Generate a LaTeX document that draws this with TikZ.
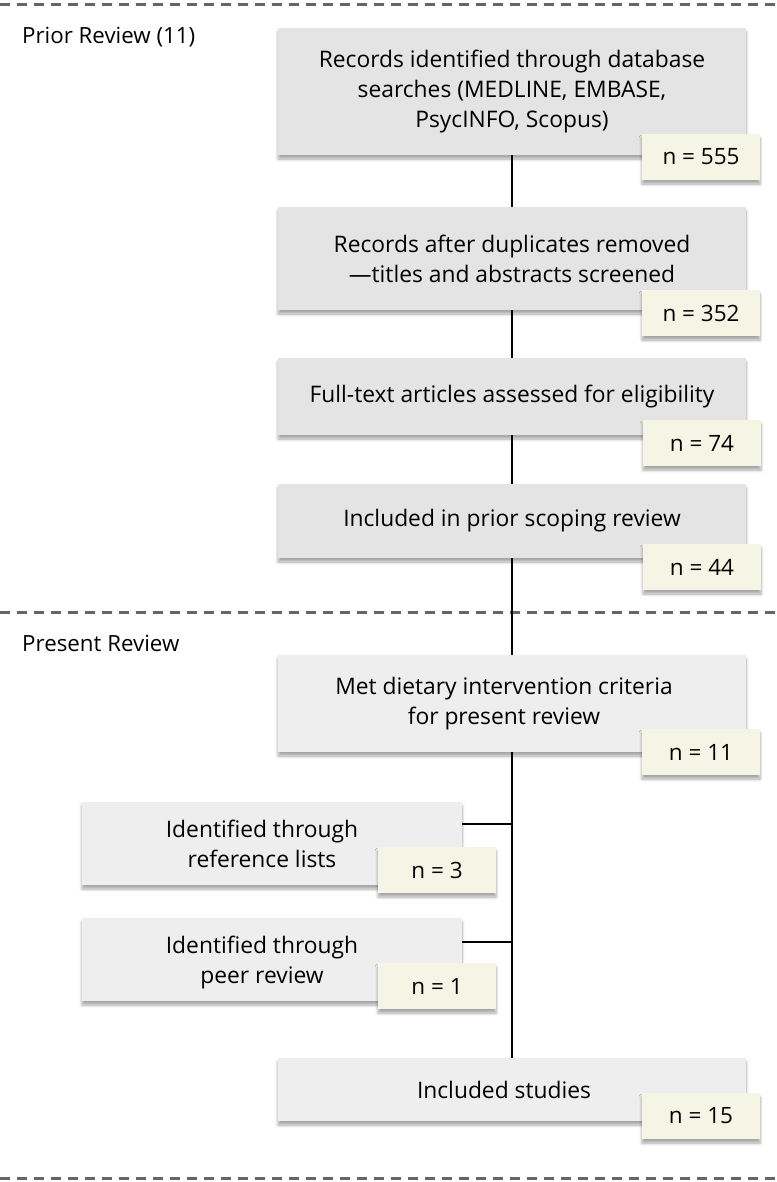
\documentclass[tikz,border=0pt]{standalone}
\usepackage{fontspec}
\setmainfont{Open Sans}
\usetikzlibrary{shadows.blur}
\definecolor{boxA}{HTML}{E4E4E4}
\definecolor{boxB}{HTML}{EEEEEE}
\definecolor{nbox}{HTML}{F5F5E6}
\definecolor{dashgray}{HTML}{666666}
\newcommand{\rpad}{\hspace*{16pt}}
\newcommand{\spad}{\hspace*{20pt}}
\tikzset{
  sh/.style={blur shadow={shadow xshift=0pt, shadow yshift=-4pt, shadow blur steps=6, shadow opacity=35, shadow blur radius=3pt}},
  mainbox/.style={sh, fill=boxA, minimum width=468pt, align=center, font=\fontsize{22.8}{30}\selectfont, inner sep=0pt},
  lightbox/.style={mainbox, fill=boxB},
  sidebox/.style={lightbox, minimum width=380pt},
  nb/.style={sh, fill=nbox, minimum width=118pt, minimum height=46pt, font=\fontsize{22.5}{30}\selectfont, inner sep=0pt},
  sep/.style={dashgray, line width=3pt, dash pattern=on 10pt off 7pt},
  conn/.style={line width=2pt, black},
  lbl/.style={anchor=west, font=\fontsize{22.3}{30}\selectfont, inner sep=0pt}
}
\begin{document}
\begin{tikzpicture}[x=1pt, y=-1pt]
\useasboundingbox (0,0) rectangle (776,1182);
\coordinate (s1a) at (0,5); \coordinate (s1b) at (776,5);
\coordinate (s2a) at (0,612); \coordinate (s2b) at (776,612);
\coordinate (s3a) at (0,1178); \coordinate (s3b) at (776,1178);
\draw[sep] (s1a) -- (s1b);
\draw[sep] (s2a) -- (s2b);
\draw[sep] (s3a) -- (s3b);
\node[lbl] (prior) at (22,37) {Prior Review (11)};
\node[lbl] (present) at (22,643) {Present Review};

\node[mainbox, minimum height=127pt] (b1) at (512,91.5) {Records identified through database\\searches (MEDLINE, EMBASE,\\PsycINFO, Scopus)};
\node[mainbox, minimum height=103pt] (b2) at (512,258.5) {Records after duplicates removed\\—titles and abstracts screened};
\node[mainbox, minimum height=77pt] (b3) at (512,396.5) {Full-text articles assessed for eligibility};
\node[mainbox, minimum height=74pt] (b4) at (512,521) {Included in prior scoping review};
\node[lightbox, minimum height=97pt] (b5) at (512,703.5) {Met dietary intervention criteria\rpad\\for present review\rpad};
\node[sidebox, minimum height=83pt, text depth=-6pt] (b6) at (272,843.5) {Identified through\spad\\reference lists\spad};
\node[sidebox, minimum height=83pt, text depth=-6pt] (b7) at (272,959.5) {Identified through\spad\\peer review\spad};
\node[lightbox, minimum height=63pt] (b8) at (512,1089.5) {Included studies\rpad};

\draw[conn] (b1.south) -- (b2.north);
\draw[conn] (b2.south) -- (b3.north);
\draw[conn] (b3.south) -- (b4.north);
\draw[conn] (b4.south) -- (b5.north);
\draw[conn] (b5.south) -- (b8.north);
\draw[conn] ([yshift=20pt]b6.east) -- ([yshift=20pt]b6.east -| b5.south);
\draw[conn] ([yshift=18pt]b7.east) -- ([yshift=18pt]b7.east -| b5.south);

\node[nb] (n1) at (701,157) {n = 555};
\node[nb] (n2) at (701,313) {n = 352};
\node[nb] (n3) at (702,443) {n = 74};
\node[nb] (n4) at (702,567) {n = 44};
\node[nb] (n5) at (701,752) {n = 11};
\node[nb] (n6) at (437,870) {n = 3};
\node[nb] (n7) at (437,986) {n = 1};
\node[nb] (n8) at (701,1116) {n = 15};
\end{tikzpicture}
\end{document}
